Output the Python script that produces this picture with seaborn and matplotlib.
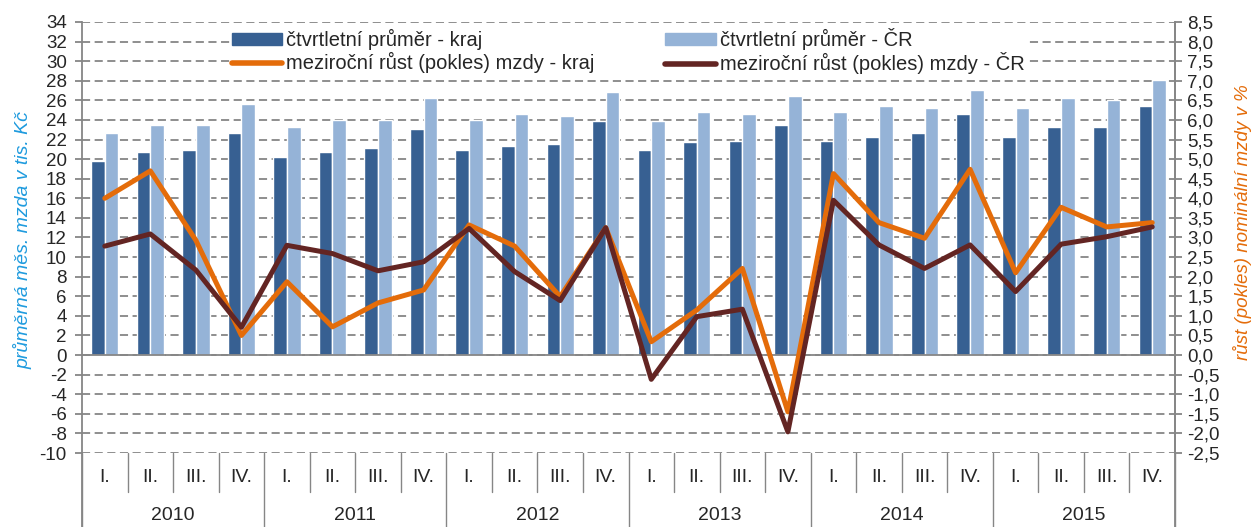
import numpy as np
import pandas as pd
import matplotlib
matplotlib.use("Agg")
import matplotlib.pyplot as plt
from matplotlib.lines import Line2D
from matplotlib.patches import Patch
import seaborn as sns

# data
roky = ["2010", "2011", "2012", "2013", "2014", "2015"]
ctvrtleti = ["I.", "II.", "III.", "IV."]

prumer_kraj = [19.8, 20.7, 20.9, 22.7, 20.2, 20.7, 21.1, 23.1, 20.9, 21.3, 21.5, 23.9,
               20.9, 21.7, 21.9, 23.5, 21.9, 22.3, 22.7, 24.6, 22.3, 23.3, 23.3, 25.4]
prumer_cr = [22.7, 23.5, 23.5, 25.6, 23.3, 24.0, 24.0, 26.2, 24.0, 24.6, 24.4, 26.9,
             23.9, 24.8, 24.6, 26.4, 24.8, 25.4, 25.2, 27.1, 25.2, 26.2, 26.0, 28.1]
rust_kraj = [4.0, 4.7, 2.93, 0.5, 1.87, 0.72, 1.33, 1.66, 3.32, 2.78, 1.49, 3.25,
             0.34, 1.15, 2.21, -1.45, 4.63, 3.38, 2.98, 4.74, 2.1, 3.77, 3.27, 3.38]
rust_cr = [2.78, 3.09, 2.17, 0.71, 2.8, 2.59, 2.15, 2.38, 3.23, 2.13, 1.39, 3.25,
           -0.62, 0.98, 1.17, -1.96, 3.95, 2.81, 2.21, 2.81, 1.62, 2.83, 3.02, 3.27]

lab_bar_kraj = "čtvrtletní průměr - kraj"
lab_bar_cr = "čtvrtletní průměr - ČR"
lab_line_kraj = "meziroční růst (pokles) mzdy - kraj"
lab_line_cr = "meziroční růst (pokles) mzdy - ČR"

kat = [f"{r} {q}" for r in roky for q in ctvrtleti]
df = pd.DataFrame({
    "kat": kat * 2,
    "rada": [lab_bar_kraj] * len(kat) + [lab_bar_cr] * len(kat),
    "mzda": prumer_kraj + prumer_cr,
})

sns.set_style("white")
plt.rcParams["font.family"] = ["Liberation Sans", "DejaVu Sans"]
plt.rcParams["axes.unicode_minus"] = False

c_dark = "#376092"
c_light = "#95B3D7"
c_orange = "#E46C0A"
c_brown = "#632523"
c_grid = "#868686"

fig = plt.figure(figsize=(12.54, 5.27), dpi=100)
ax = fig.add_axes([82 / 1254, 74 / 527, (1175 - 82) / 1254, (453 - 22) / 527])

sns.barplot(data=df, x="kat", y="mzda", hue="rada", order=kat,
            palette=[c_dark, c_light], saturation=1, width=0.6, gap=0,
            ax=ax, legend=False)
ax.set_xlim(-0.5, len(kat) - 0.5)
ax.set_ylim(-10, 34)
ax.set_yticks(np.arange(-10, 35, 2))
ax.set_axisbelow(True)
ax.yaxis.grid(True, color=c_grid, linestyle=(0, (4.5, 2.5)), linewidth=1.3)
ax.set_xlabel("")
ax.set_ylabel("průměrná měs. mzda v tis. Kč", color="#1F9BDE", style="italic", fontsize=14)
ax.yaxis.set_label_coords(-0.045, 0.494)

ax.spines["top"].set_visible(False)
for s in ["left", "right", "bottom"]:
    ax.spines[s].set_color(c_grid)
    ax.spines[s].set_linewidth(1.3)
ax.spines["bottom"].set_position(("data", 0))
ax.spines["left"].set_bounds(-10, 34)
ax.set_xticks(np.arange(-0.5, len(kat), 1.0))
ax.set_xticklabels([])
ax.tick_params(axis="x", length=5, color=c_grid, width=1.3, direction="out")
ax.tick_params(axis="y", length=5, color=c_grid, width=1.3, labelsize=13.5, pad=6, left=True)

# right axis with the growth rates
ax2 = ax.twinx()
x = np.arange(len(kat))
sns.lineplot(x=x, y=rust_kraj, ax=ax2, color=c_orange, linewidth=3.6)
sns.lineplot(x=x, y=rust_cr, ax=ax2, color=c_brown, linewidth=3.6)
ax2.set_ylim(-2.5, 8.5)
pravy = np.arange(-2.5, 8.6, 0.5)
ax2.set_yticks(pravy)
ax2.set_yticklabels([f"{v:.1f}".replace(".", ",") for v in pravy])
ax2.tick_params(axis="y", length=5, color=c_grid, width=1.3, labelsize=13.5, pad=4, right=True)
ax2.set_ylabel("růst (pokles) nominální mzdy v %", color=c_orange, style="italic", fontsize=13.5)
ax2.yaxis.set_label_coords(1.053, 0.536)
for s in ["top", "bottom", "left"]:
    ax2.spines[s].set_visible(False)
ax2.spines["right"].set_color(c_grid)
ax2.spines["right"].set_linewidth(1.3)
ax2.set_xlim(-0.5, len(kat) - 0.5)

# multi-level category labels below the plot
tr = ax.get_xaxis_transform()
bottom = -74 / 431
for i, k in enumerate(kat):
    ax.text(i, -25 / 431, ctvrtleti[i % 4], transform=tr, ha="center", va="center",
            fontsize=14, clip_on=False)
for j, r in enumerate(roky):
    ax.text(j * 4 + 1.5, -62 / 431, r, transform=tr, ha="center", va="center",
            fontsize=14, clip_on=False)
for b in np.arange(-0.5, len(kat), 1.0):
    y_end = bottom if (b + 0.5) % 4 == 0 else -39 / 431
    ax.plot([b, b], [0, y_end], transform=tr, color=c_grid, lw=1.0, clip_on=False)
ax.plot([-0.5, -0.5], [0, bottom], transform=tr, color=c_grid, lw=1.3, clip_on=False)
ax.plot([len(kat) - 0.5] * 2, [0, bottom], transform=tr, color=c_grid, lw=1.3, clip_on=False)

# legend
handles = [Patch(color=c_dark), Line2D([], [], color=c_orange, lw=4),
           Patch(color=c_light), Line2D([], [], color=c_brown, lw=4)]
labels = [lab_bar_kraj, lab_line_kraj, lab_bar_cr, lab_line_cr]
leg = ax2.legend(handles, labels, ncol=2, loc="upper left",
                 bbox_to_anchor=(230 / 1254, 1 - 26 / 527), bbox_transform=fig.transFigure,
                 frameon=True, fancybox=False, framealpha=1, edgecolor="white",
                 fontsize=14.5, handlelength=2.5, handleheight=0.5, handletextpad=0.2,
                 columnspacing=3.5, labelspacing=0.12, borderpad=0.1, borderaxespad=0)

fig.savefig("out.png", dpi=100)
